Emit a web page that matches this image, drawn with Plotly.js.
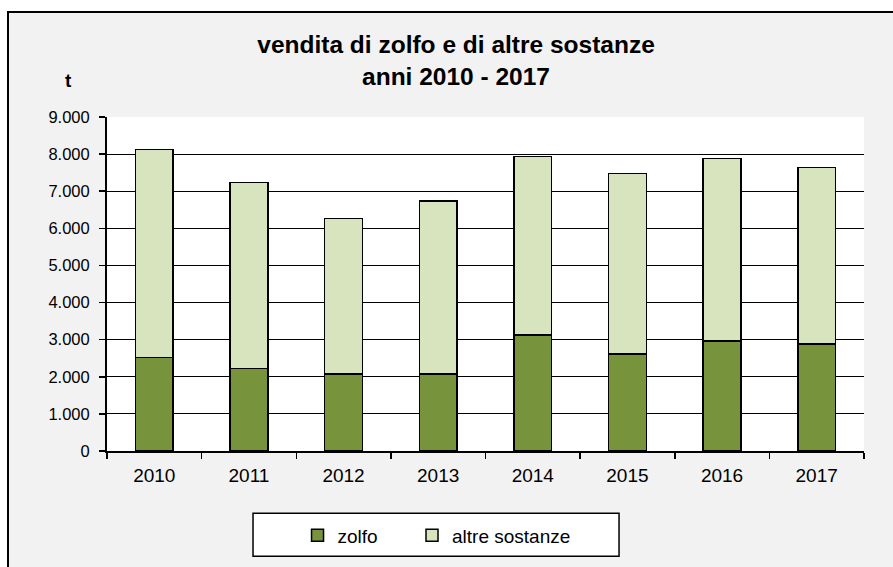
<!DOCTYPE html>
<html>
<head>
<meta charset="utf-8">
<script src="https://cdn.plot.ly/plotly-3.0.1.min.js"></script>
<style>
  html, body { margin: 0; padding: 0; background: #ffffff; }
  #chart {
    position: absolute; left: 7px; top: 11px;
    width: 884px; height: 554px;
    border-left: 2px solid #000; border-top: 2px solid #000;
  }
</style>
</head>
<body>
<div id="chart"></div>
<script>
// ---- data ----
const years = ["2010", "2011", "2012", "2013", "2014", "2015", "2016", "2017"];
const zolfo = [2520, 2220, 2070, 2070, 3120, 2620, 2970, 2880];
const altreSostanze = [5610, 5010, 4200, 4660, 4820, 4860, 4910, 4760];
const seriesNames = ["zolfo", "altre sostanze"];
const titleLines = ["vendita di zolfo e di altre sostanze", "anni 2010 - 2017"];
const unitLabel = "t";

const FONT = "Liberation Sans, Arial, sans-serif";

const traces = [
  {
    type: "bar", name: seriesNames[0], x: years, y: zolfo,
    marker: { color: "#77933C", line: { color: "#000", width: 1.5 } },
    width: 0.4, legend: "legend"
  },
  {
    type: "bar", name: seriesNames[1], x: years, y: altreSostanze,
    marker: { color: "#D7E4BD", line: { color: "#000", width: 1.5 } },
    width: 0.4, legend: "legend2"
  }
];

const legendBase = {
  orientation: "h",
  xref: "container", xanchor: "left",
  yref: "container", y: 0.0569, yanchor: "middle",
  bgcolor: "rgba(0,0,0,0)", borderwidth: 0,
  font: { family: FONT, size: 19, color: "#000" }
};

const layout = {
  width: 884, height: 554,
  barmode: "stack",
  separators: ",.",
  paper_bgcolor: "#F2F2F2",
  plot_bgcolor: "#FFFFFF",
  margin: { l: 98, r: 29, t: 104, b: 116 },
  font: { family: FONT, color: "#000" },
  title: {
    text: titleLines.map(s => "<b>" + s + "</b>").join("<br>"),
    font: { family: FONT, size: 24.5, color: "#000" },
    xref: "container", x: 0.5057, xanchor: "center",
    yref: "container", y: 0.928, yanchor: "top"
  },
  xaxis: {
    type: "category",
    tickson: "boundaries",
    ticks: "outside", ticklen: 6, tickwidth: 1.5, tickcolor: "#000",
    showline: true, linecolor: "#000", linewidth: 2,
    showgrid: false,
    tickfont: { family: FONT, size: 19, color: "#000" },
    ticklabelstandoff: 6,
    fixedrange: true
  },
  yaxis: {
    range: [0, 9000], dtick: 1000, tick0: 0,
    tickformat: ",d",
    ticks: "outside", ticklen: 6, tickwidth: 1.5, tickcolor: "#000",
    showline: true, linecolor: "#000", linewidth: 2,
    showgrid: true, gridcolor: "#000", gridwidth: 1,
    zeroline: false,
    tickfont: { family: FONT, size: 16.5, color: "#000" },
    ticklabelstandoff: 6,
    fixedrange: true
  },
  showlegend: true,
  legend: Object.assign({}, legendBase, { x: 0.3264 }),
  legend2: Object.assign({}, legendBase, { x: 0.4559 }),
  shapes: [
    {
      type: "rect", xref: "paper", yref: "paper", layer: "below",
      x0: 0.1929, x1: 0.6764, y0: -0.3153, y1: -0.1865,
      line: { color: "#000", width: 1.5 }, fillcolor: "#FFFFFF"
    }
  ],
  annotations: [
    {
      text: "<b>" + unitLabel + "</b>", showarrow: false,
      xref: "paper", yref: "paper", x: -0.0515, y: 1.110,
      xanchor: "center", yanchor: "middle",
      font: { family: FONT, size: 19, color: "#000" }
    }
  ],
  hovermode: false
};

Plotly.newPlot("chart", traces, layout, { displayModeBar: false, staticPlot: true });
</script>
</body>
</html>
